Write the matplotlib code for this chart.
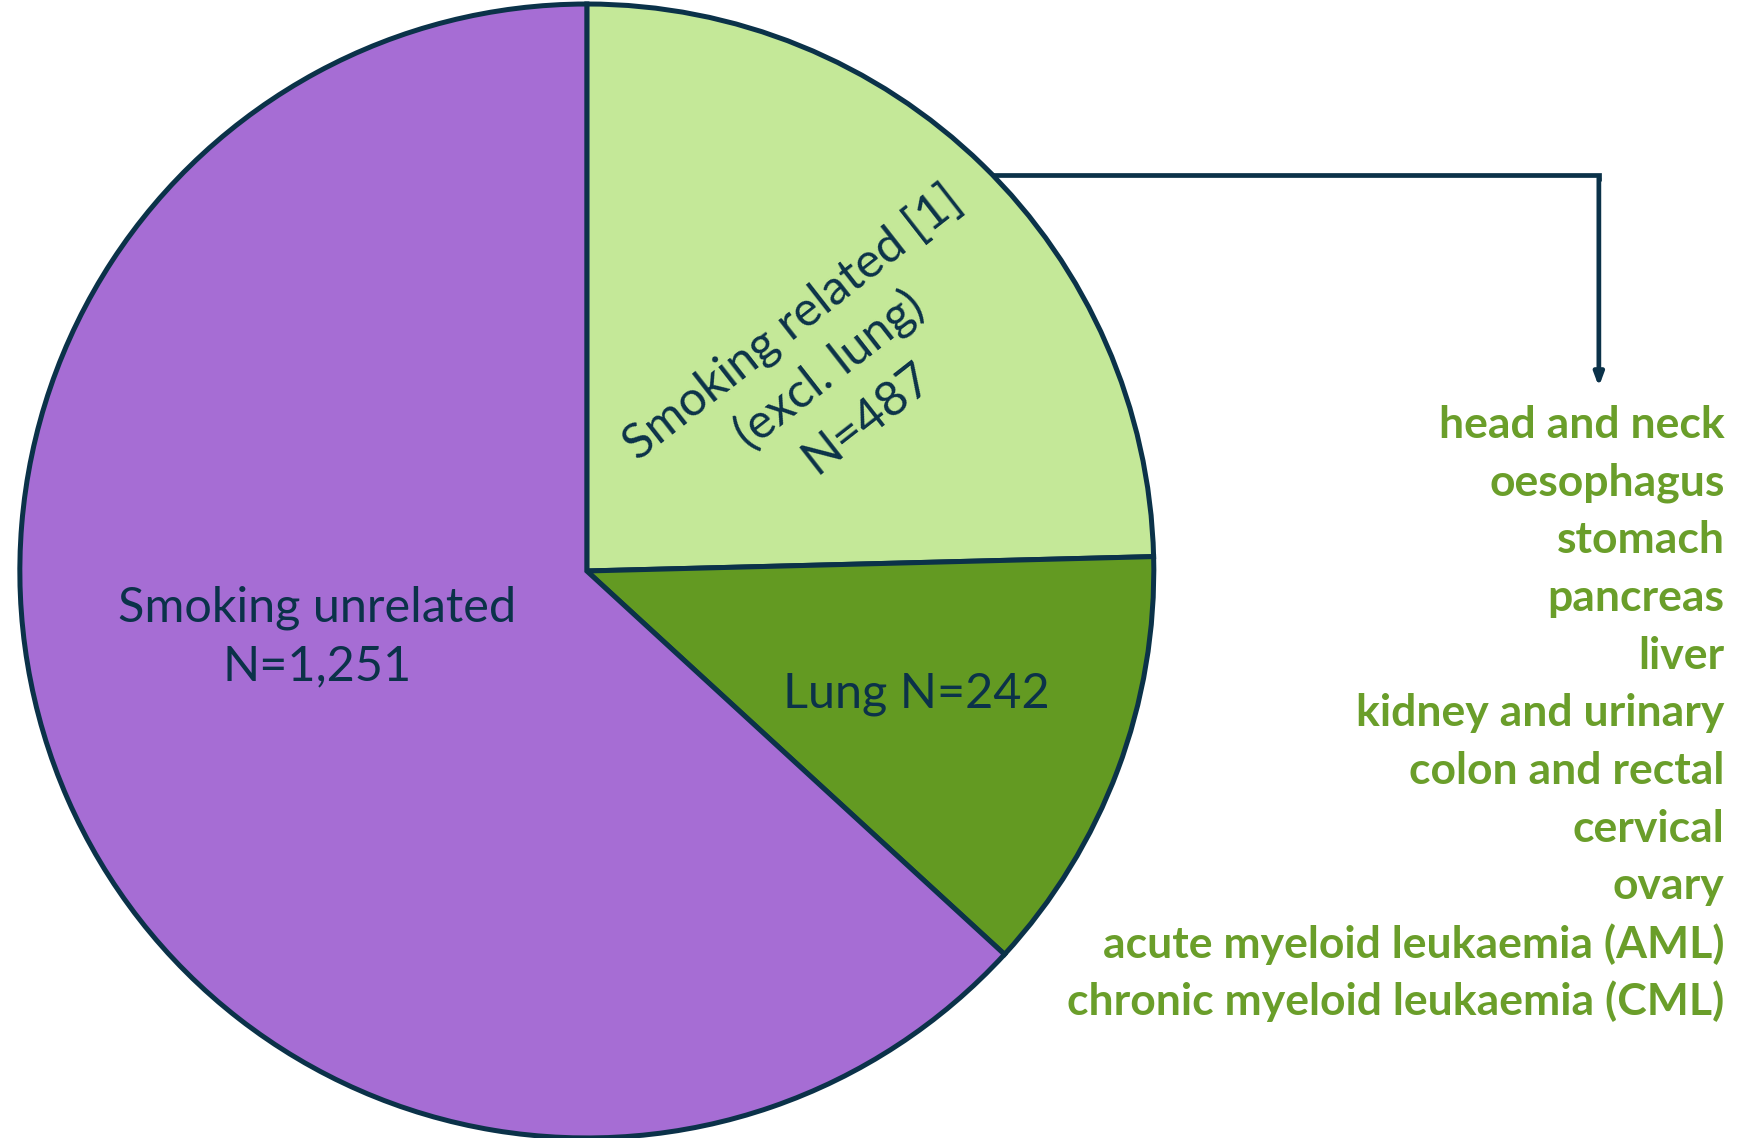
import numpy as np
import matplotlib
matplotlib.use("Agg")
import matplotlib.pyplot as plt

# case counts per group
groups = ["Smoking related [1]\n(excl. lung)\nN=487", "Lung N=242",
          "Smoking unrelated\nN=1,251"]
counts = [487, 242, 1251]

# cancers counted as smoking related
related_sites = [
    "head and neck", "oesophagus", "stomach", "pancreas", "liver",
    "kidney and urinary", "colon and rectal", "cervical", "ovary",
    "acute myeloid leukaemia (AML)", "chronic myeloid leukaemia (CML)",
]

NAVY = "#0b3249"
colors = ["#c4e898", "#639a22", "#a66dd4"]
LIST_GREEN = "#6a9e2a"

plt.rcParams["font.family"] = ["Lato", "DejaVu Sans"]

fig = plt.figure(figsize=(17.44, 11.38), dpi=100)
ax = fig.add_axes([0, 0, 1, 1])

wedges, _ = ax.pie(counts, colors=colors, startangle=90, counterclock=False,
                   radius=1.0, center=(0, 0),
                   wedgeprops=dict(edgecolor=NAVY, linewidth=3.6))

# label placement: (radius fraction, angle offset from wedge middle, rotation)
label_pos = [(0.556, -6, 38), (0.62, 0, 0), (0.49, -10, 0)]
for w, text, (r, dang, rot) in zip(wedges, groups, label_pos):
    mid = np.deg2rad((w.theta1 + w.theta2) / 2 + dang)
    x, y = r * np.cos(mid), r * np.sin(mid)
    ax.text(x, y, text, ha="center", va="center", rotation=rot,
            rotation_mode="anchor", fontsize=35, color=NAVY,
            linespacing=1.4)

# elbow arrow from the smoking-related wedge to the list of sites
y_line = 0.698
x_start = np.sqrt(1 - y_line ** 2)
x_arrow = 1.785
ax.plot([x_start, x_arrow, x_arrow], [y_line, y_line, y_line - 0.01],
        color=NAVY, lw=3.4, solid_capstyle="butt", solid_joinstyle="miter")
ax.annotate("", xy=(x_arrow, 0.325), xytext=(x_arrow, y_line - 0.005),
            arrowprops=dict(arrowstyle="-|>,head_length=0.75,head_width=0.28",
                            color=NAVY, lw=3.4, shrinkA=0, shrinkB=0))

top = 0.257
step = 0.1016
for i, site in enumerate(related_sites):
    ax.text(2.007, top - i * step, site, ha="right", va="center",
            fontsize=32, fontweight="bold", color=LIST_GREEN)

ax.set_xlim(-1.035, 2.041)
ax.set_ylim(-1.0, 1.007)
ax.set_aspect("equal")
ax.axis("off")

fig.savefig("out.png", dpi=100)
